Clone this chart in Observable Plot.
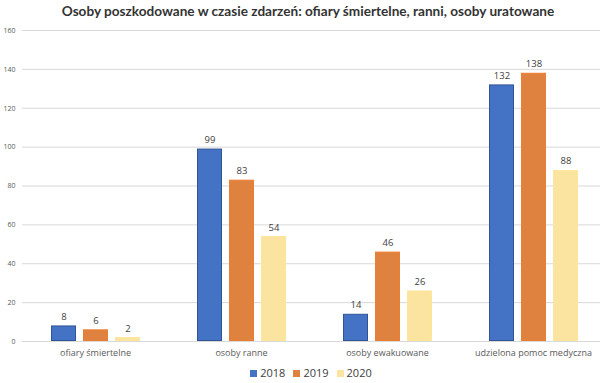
<!DOCTYPE html>
<html>
<head>
<meta charset="utf-8">
<script src="https://cdn.jsdelivr.net/npm/d3@7"></script>
<script src="https://cdn.jsdelivr.net/npm/@observablehq/plot@0.6"></script>
<style>
  body { margin: 0; background: #fff; }
  #wrap { position: relative; width: 600px; height: 383px; overflow: hidden; font-family: "Open Sans", sans-serif; }
  #title { position: absolute; left: 0; width: 616px; top: 3px; text-align: center; font-family: Lato, sans-serif; font-size: 13.6px; font-weight: 700; color: #333; white-space: nowrap; }
  #legend { position: absolute; left: 0; width: 622px; top: 365px; text-align: center; font-size: 11px; color: #404040; white-space: nowrap; }
  #legend span.item { margin: 0 4px; }
  #legend span.sw { display: inline-block; width: 7px; height: 7px; margin-right: 3px; vertical-align: 0px; }
  #chart { position: absolute; left: 0; top: 0; }
</style>
</head>
<body>
<div id="wrap">
  <div id="chart"></div>
  <div id="title"></div>
  <div id="legend"></div>
</div>
<script>
const titleText = "Osoby poszkodowane w czasie zdarzeń: ofiary śmiertelne, ranni, osoby uratowane";
const categories = ["ofiary śmiertelne", "osoby ranne", "osoby ewakuowane", "udzielona pomoc medyczna"];
const years = ["2018", "2019", "2020"];
const values2018 = [8, 99, 14, 132];
const values2019 = [6, 83, 46, 138];
const values2020 = [2, 54, 26, 88];
const yTicks = [0, 20, 40, 60, 80, 100, 120, 140, 160];
const fillColors = ["#4472C4", "#E0823F", "#FBE3A0"];
const strokeColors = ["#2F5597", "#ED7D31", "#FFE699"];

const series = [values2018, values2019, values2020];
const data = [];
years.forEach((yr, i) => categories.forEach((c, j) => data.push({cat: c, year: yr, value: series[i][j], yi: i})));

document.getElementById("title").textContent = titleText;
document.getElementById("legend").innerHTML = years.map((y, i) =>
  `<span class="item"><span class="sw" style="background:${fillColors[i]}"></span>${y}</span>`).join("");

const chart = Plot.plot({
  width: 600,
  height: 383,
  marginTop: 30,
  marginBottom: 42,
  marginLeft: 21,
  marginRight: 0,
  style: {fontFamily: "Open Sans, sans-serif", background: "transparent"},
  fx: {domain: categories, range: [21, 606], padding: 0, label: null, axis: null},
  x: {domain: years, paddingInner: 0.23, paddingOuter: 0.86, axis: null},
  y: {domain: [0, 160], label: null},
  marks: [
    Plot.gridY(yTicks, {stroke: "#d9d9d9", strokeOpacity: 1}),
    Plot.axisY(yTicks, {tickSize: 0, tickPadding: 7, fontSize: 7, fill: "#595959", label: null}),
    ...years.map((yr, i) => Plot.barY(data.filter(d => d.yi === i), {
      fx: "cat", x: "year", y: "value", fill: fillColors[i], stroke: strokeColors[i], strokeWidth: 1, inset: 0.5
    })),
    Plot.text(data, {fx: "cat", x: "year", y: "value", text: d => String(d.value), dy: -9, fontSize: 9.5, fill: "#404040"}),
    Plot.axisFx({anchor: "bottom", tickSize: 0, tickPadding: 8, fontSize: 9, fill: "#595959", label: null})
  ]
});
document.getElementById("chart").appendChild(chart);
</script>
</body>
</html>
